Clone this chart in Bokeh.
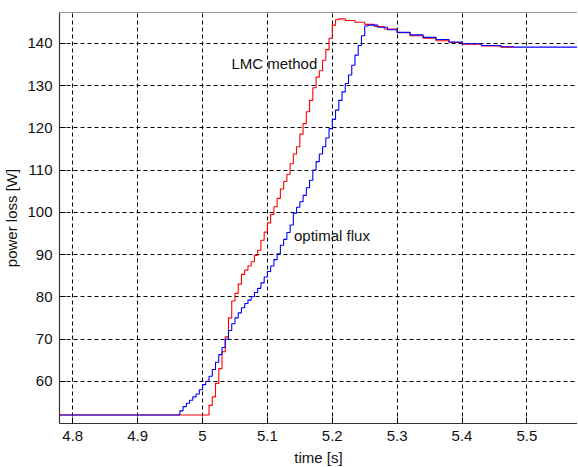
from bokeh.plotting import figure
from bokeh.models import ColumnDataSource, Range1d, FixedTicker, Span
from bokeh.core.properties import value
from bokeh.embed import file_html
from bokeh.resources import INLINE

# ---- data ----
flux_t = [4.78, 4.965, 4.970, 4.975, 4.980, 4.985, 4.990, 4.995, 5.000, 5.005,
          5.010, 5.015, 5.020, 5.025, 5.030, 5.035, 5.040, 5.045, 5.050, 5.055,
          5.060, 5.065, 5.070, 5.075, 5.080, 5.085, 5.090, 5.095, 5.100, 5.105,
          5.110, 5.115, 5.120, 5.125, 5.130, 5.135, 5.140, 5.145, 5.150, 5.155,
          5.160, 5.165, 5.170, 5.175, 5.180, 5.185, 5.190, 5.195, 5.200, 5.205,
          5.210, 5.215, 5.220, 5.225, 5.230, 5.235, 5.240, 5.245, 5.250, 5.255,
          5.270, 5.285, 5.300, 5.320, 5.340, 5.360, 5.380, 5.400, 5.430, 5.460,
          5.480, 5.578]
flux_p = [52.0, 53.0, 54.0, 54.8, 55.5, 56.3, 57.0, 58.0, 59.2, 60.0,
          61.2, 62.8, 64.5, 66.3, 68.0, 70.0, 72.0, 73.6, 75.0, 76.2,
          77.4, 78.4, 79.2, 80.0, 81.0, 82.0, 83.3, 84.7, 86.0, 87.3,
          88.8, 90.2, 92.2, 93.6, 95.2, 97.0, 99.8, 101.2, 102.5, 104.0,
          105.8, 107.6, 110.0, 112.0, 113.8, 115.5, 117.6, 119.8, 122.0, 124.2,
          126.5, 128.5, 130.5, 132.5, 134.8, 137.2, 139.5, 141.8, 144.1, 144.3,
          143.8, 143.2, 142.6, 142.0, 141.4, 140.9, 140.3, 139.9, 139.5, 139.2,
          139.1, 139.1]

lmc_t = [4.78, 5.010, 5.015, 5.020, 5.025, 5.030, 5.035, 5.040, 5.045, 5.050,
         5.055, 5.060, 5.065, 5.070, 5.075, 5.080, 5.085, 5.090, 5.095, 5.100,
         5.105, 5.110, 5.115, 5.120, 5.125, 5.130, 5.135, 5.140, 5.145, 5.150,
         5.155, 5.160, 5.165, 5.170, 5.175, 5.180, 5.185, 5.190, 5.195, 5.200,
         5.205, 5.210, 5.220, 5.235, 5.250, 5.265, 5.280, 5.300, 5.320, 5.340,
         5.360, 5.380, 5.400, 5.430, 5.460, 5.480]
lmc_p = [52.0, 54.3, 56.3, 59.5, 63.0, 67.0, 70.5, 75.0, 79.0, 80.8,
         83.0, 85.3, 86.3, 87.3, 88.3, 89.8, 91.0, 93.4, 95.3, 97.5,
         99.5, 101.3, 103.3, 105.5, 107.3, 109.0, 111.5, 113.8, 115.5, 118.5,
         121.0, 123.8, 126.5, 129.5, 132.0, 133.5, 136.0, 138.5, 141.2, 144.3,
         145.6, 145.8, 145.4, 145.0, 144.5, 144.0, 143.4, 142.5, 141.8, 141.2,
         140.6, 140.2, 139.8, 139.4, 139.1, 139.1]

x_ticks = [4.8, 4.9, 5.0, 5.1, 5.2, 5.3, 5.4, 5.5]
x_tick_labels = ["4.8", "4.9", "5", "5.1", "5.2", "5.3", "5.4", "5.5"]
y_ticks = [60, 70, 80, 90, 100, 110, 120, 130, 140]
y_tick_labels = ["60", "70", "80", "90", "100", "110", "120", "130", "140"]

X_MIN, X_MAX = 4.7795, 5.578
Y_MIN, Y_MAX = 50.0, 147.3

FONT = "Liberation Sans"

p = figure(frame_width=518, frame_height=411, output_backend="svg",
           toolbar_location=None,
           x_range=Range1d(X_MIN, X_MAX), y_range=Range1d(Y_MIN, Y_MAX),
           min_border_left=55, min_border_right=0, min_border_top=12,
           min_border_bottom=40)
p.background_fill_color = "white"
p.border_fill_color = "white"
p.outline_line_color = None

p.step(x="t", y="p", source=ColumnDataSource(dict(t=lmc_t, p=lmc_p)),
       mode="after", line_color="#ff0000", line_width=1.1)
p.step(x="t", y="p", source=ColumnDataSource(dict(t=flux_t, p=flux_p)),
       mode="after", line_color="#0000ff", line_width=1.1)

# top border of the box
p.add_layout(Span(location=Y_MAX, dimension="width", line_color="#333333",
                  line_width=1.2))

p.xaxis.ticker = FixedTicker(ticks=x_ticks)
p.yaxis.ticker = FixedTicker(ticks=y_ticks)
p.xaxis.major_label_overrides = dict(zip(x_ticks, x_tick_labels))
p.yaxis.major_label_overrides = dict(zip(y_ticks, y_tick_labels))

for ax in (p.xaxis, p.yaxis):
    ax.axis_line_color = "#333333"
    ax.axis_line_width = 1.2
    ax.major_tick_in = 6
    ax.major_tick_out = 0
    ax.major_tick_line_color = "black"
    ax.minor_tick_line_color = None
    ax.major_label_text_font = FONT
    ax.major_label_text_font_size = "15px"
    ax.major_label_text_color = "#111111"
    ax.axis_label_text_font = FONT
    ax.axis_label_text_font_size = "15px"
    ax.axis_label_text_font_style = "normal"
    ax.axis_label_text_color = "#111111"

p.xaxis.axis_label = "time [s]"
p.yaxis.axis_label = "power loss [W]"
p.xaxis.major_label_standoff = 7
p.xaxis.axis_label_standoff = 5
p.yaxis.major_label_standoff = 7
p.yaxis.axis_label_standoff = 4

for g in (p.xgrid, p.ygrid):
    g.grid_line_color = "black"
    g.grid_line_dash = "4 3"
    g.grid_line_width = 1
p.xgrid.ticker = FixedTicker(ticks=x_ticks)
p.ygrid.ticker = FixedTicker(ticks=y_ticks)

p.text(x=[5.0445], y=[135.3], text=["LMC method"], text_font=value(FONT),
       text_font_size="15px", text_baseline="middle", text_align="left",
       text_color="#111111")
p.text(x=[5.141], y=[94.6], text=["optimal flux"], text_font=value(FONT),
       text_font_size="15px", text_baseline="middle", text_align="left",
       text_color="#111111")

open("out.html", "w").write(file_html(p, INLINE))
